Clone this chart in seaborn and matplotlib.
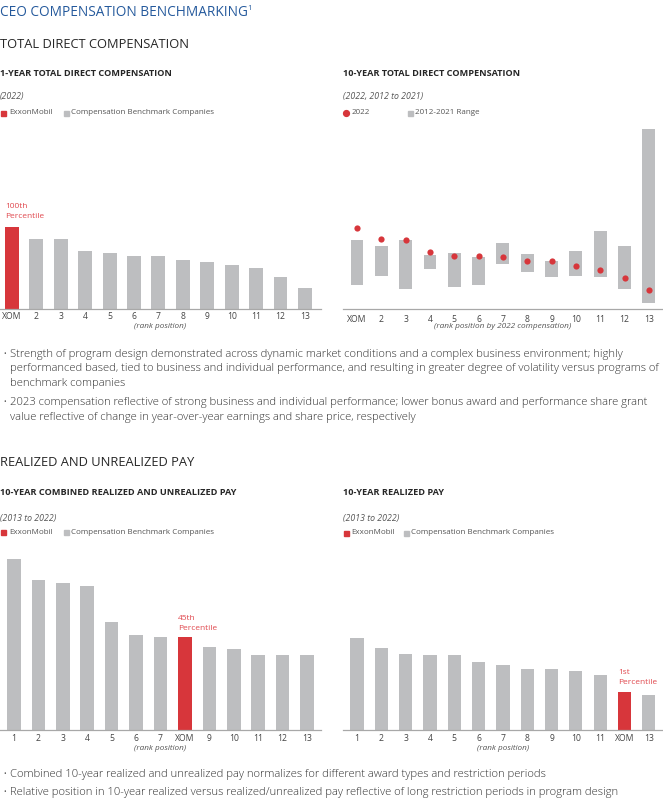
import matplotlib
matplotlib.use("Agg")
import matplotlib.pyplot as plt
from matplotlib.lines import Line2D
import seaborn as sns
import pandas as pd
import numpy as np

# ---------------- data ----------------
tdc1_labels = ["XOM", "2", "3", "4", "5", "6", "7", "8", "9", "10", "11", "12", "13"]
tdc1_values = [82, 70, 70, 58, 56, 53, 53, 49, 47, 44, 41, 32, 21]

tdc10_labels = ["XOM", "2", "3", "4", "5", "6", "7", "8", "9", "10", "11", "12", "13"]
tdc10_low = [24, 33, 20, 40, 22, 24, 45, 37, 32, 33, 32, 20, 6]
tdc10_high = [69, 63, 69, 54, 56, 52, 66, 55, 48, 58, 78, 63, 180]
tdc10_2022 = [81, 70, 69, 57, 53, 53, 52, 48, 48, 43, 39, 31, 19]

combined_labels = ["1", "2", "3", "4", "5", "6", "7", "XOM", "9", "10", "11", "12", "13"]
combined_values = [171, 150, 147, 144, 108, 95, 93, 93, 83, 81, 75, 75, 75]

realized_labels = ["1", "2", "3", "4", "5", "6", "7", "8", "9", "10", "11", "XOM", "13"]
realized_values = [92, 82, 76, 75, 75, 68, 65, 61, 61, 59, 55, 38, 35]

RED = "#d7363b"
RED_TXT = "#e0484e"
GRAY = "#bdbec0"
BLUE = "#24599c"
DARK = "#262626"
MID = "#555555"
AXIS = "#a8a8a8"

W, H = 663, 801
sns.set_theme(style="white")
plt.rcParams["font.family"] = ["Open Sans", "DejaVu Sans"]

fig = plt.figure(figsize=(W / 100, H / 100), dpi=100)


def fx(x):
    return x / W


def fy(y):
    return 1 - y / H


def T(x, y, s, size, color=DARK, weight="normal", style="normal", ha="left", va="center"):
    fig.text(fx(x), fy(y), s, fontsize=size, color=color, fontweight=weight,
             fontstyle=style, ha=ha, va=va)


def add_ax(x0, x1, ybase, ytop):
    return fig.add_axes([fx(x0), fy(ybase), (x1 - x0) / W, (ybase - ytop) / H])


def style_ax(ax, xlim, ylim, pad):
    ax.set_xlim(*xlim)
    ax.set_ylim(*ylim)
    for s in ["top", "right", "left"]:
        ax.spines[s].set_visible(False)
    ax.spines["bottom"].set_color(AXIS)
    ax.spines["bottom"].set_linewidth(0.9)
    ax.set_yticks([])
    ax.tick_params(axis="x", length=0, pad=pad, labelsize=6.2, labelcolor="#444444")
    ax.set_xlabel("")
    ax.set_ylabel("")
    ax.patch.set_alpha(0)


def bar_chart(ax, labels, values, width):
    df = pd.DataFrame({"rank": labels, "value": values})
    pal = {l: (RED if l == "XOM" else GRAY) for l in labels}
    sns.barplot(data=df, x="rank", y="value", hue="rank", palette=pal, legend=False,
                width=width, saturation=1, ax=ax, linewidth=0)


def legend_square(x, y, color):
    fig.add_artist(Line2D([fx(x)], [fy(y)], marker="s", markersize=3.6, color=color,
                          linestyle="none", transform=fig.transFigure))


def legend_dot(x, y, color):
    fig.add_artist(Line2D([fx(x)], [fy(y)], marker="o", markersize=4.2, color=color,
                          linestyle="none", transform=fig.transFigure))


LEG = 5.8
SUB = 6.3
HDR = 6.6
ANN = 6.0

# ---------------- headings ----------------
T(0, 13, "CEO COMPENSATION BENCHMARKING", 9.8, BLUE)
T(247, 9, "1", 5.5, BLUE)
T(0, 44, "TOTAL DIRECT COMPENSATION", 9.3, DARK)

# ---------------- chart 1 ----------------
T(0, 73, "1-YEAR TOTAL DIRECT COMPENSATION", HDR, DARK, weight="bold")
T(0, 97, "(2022)", SUB, MID, style="italic")
legend_square(3, 113, RED)
T(9, 113, "ExxonMobil", LEG, MID)
legend_square(66, 113, GRAY)
T(71, 113, "Compensation Benchmark Companies", LEG, MID)

ax1 = add_ax(0, 321, 309, 130)
bar_chart(ax1, tdc1_labels, tdc1_values, 0.57)
style_ax(ax1, (-0.49, 12.66), (0, 179), 2.5)
T(5, 206, "100th", ANN, RED_TXT)
T(5, 216, "Percentile", ANN, RED_TXT)
T(160, 327, "(rank position)", 5.85, MID, style="italic", ha="center")

# ---------------- chart 2 ----------------
T(343, 73, "10-YEAR TOTAL DIRECT COMPENSATION", HDR, DARK, weight="bold")
T(343, 97, "(2022, 2012 to 2021)", SUB, MID, style="italic")
legend_dot(346, 113, RED)
T(352, 113, "2022", LEG, MID)
legend_square(410, 113, GRAY)
T(415, 113, "2012-2021 Range", LEG, MID)

ax2 = add_ax(343, 663, 309, 120)
xs = np.arange(len(tdc10_labels))
ax2.bar(xs, np.array(tdc10_high) - np.array(tdc10_low), bottom=tdc10_low,
        width=0.53, color=GRAY, linewidth=0)
df2 = pd.DataFrame({"rank": tdc10_labels, "v": tdc10_2022})
sns.scatterplot(data=df2, x="rank", y="v", color=RED, s=20, linewidth=0, ax=ax2, zorder=3)
ax2.set_xticks(xs)
ax2.set_xticklabels(tdc10_labels)
style_ax(ax2, (-0.575, 12.58), (0, 189), 4)
T(503, 327, "(rank position by 2022 compensation)", 5.95, MID, style="italic", ha="center")

# ---------------- bullets top ----------------
bul_size = 8.15
top_lines = [
    (355, True, "Strength of program design demonstrated across dynamic market conditions and a complex business environment; highly"),
    (369, False, "performanced based, tied to business and individual performance, and resulting in greater degree of volatility versus programs of"),
    (383, False, "benchmark companies"),
    (403, True, "2023 compensation reflective of strong business and individual performance; lower bonus award and performance share grant"),
    (417, False, "value reflective of change in year-over-year earnings and share price, respectively"),
]
for y, b, s in top_lines:
    if b:
        T(3, y, "•", 5, MID)
    T(10, y, s, bul_size, "#333333", weight="light")

# ---------------- section 2 ----------------
T(0, 463, "REALIZED AND UNREALIZED PAY", 9.3, DARK)

T(0, 493, "10-YEAR COMBINED REALIZED AND UNREALIZED PAY", HDR, DARK, weight="bold")
T(0, 519, "(2013 to 2022)", SUB, MID, style="italic")
legend_square(3, 532, RED)
T(9, 532, "ExxonMobil", LEG, MID)
legend_square(66, 532, GRAY)
T(71, 532, "Compensation Benchmark Companies", LEG, MID)

ax3 = add_ax(0, 321, 730, 550)
bar_chart(ax3, combined_labels, combined_values, 0.56)
style_ax(ax3, (-0.57, 12.57), (0, 180), 3)
T(178, 619, "45th", ANN, RED_TXT)
T(178, 629, "Percentile", ANN, RED_TXT)
T(160, 749, "(rank position)", 5.85, MID, style="italic", ha="center")

T(343, 493, "10-YEAR REALIZED PAY", HDR, DARK, weight="bold")
T(343, 518, "(2013 to 2022)", SUB, MID, style="italic")
legend_square(346, 533, RED)
T(351, 533, "ExxonMobil", LEG, MID)
legend_square(406, 533, GRAY)
T(411, 533, "Compensation Benchmark Companies", LEG, MID)

ax4 = add_ax(343, 663, 730, 550)
bar_chart(ax4, realized_labels, realized_values, 0.54)
style_ax(ax4, (-0.575, 12.58), (0, 180), 3)
T(618, 673, "1st", ANN, RED_TXT)
T(618, 683, "Percentile", ANN, RED_TXT)
T(503, 749, "(rank position)", 5.85, MID, style="italic", ha="center")

bottom_lines = [
    (774, "Combined 10-year realized and unrealized pay normalizes for different award types and restriction periods"),
    (792, "Relative position in 10-year realized versus realized/unrealized pay reflective of long restriction periods in program design"),
]
for y, s in bottom_lines:
    T(3, y, "•", 5, MID)
    T(10, y, s, bul_size, "#333333", weight="light")

fig.savefig("out.png", dpi=100)
